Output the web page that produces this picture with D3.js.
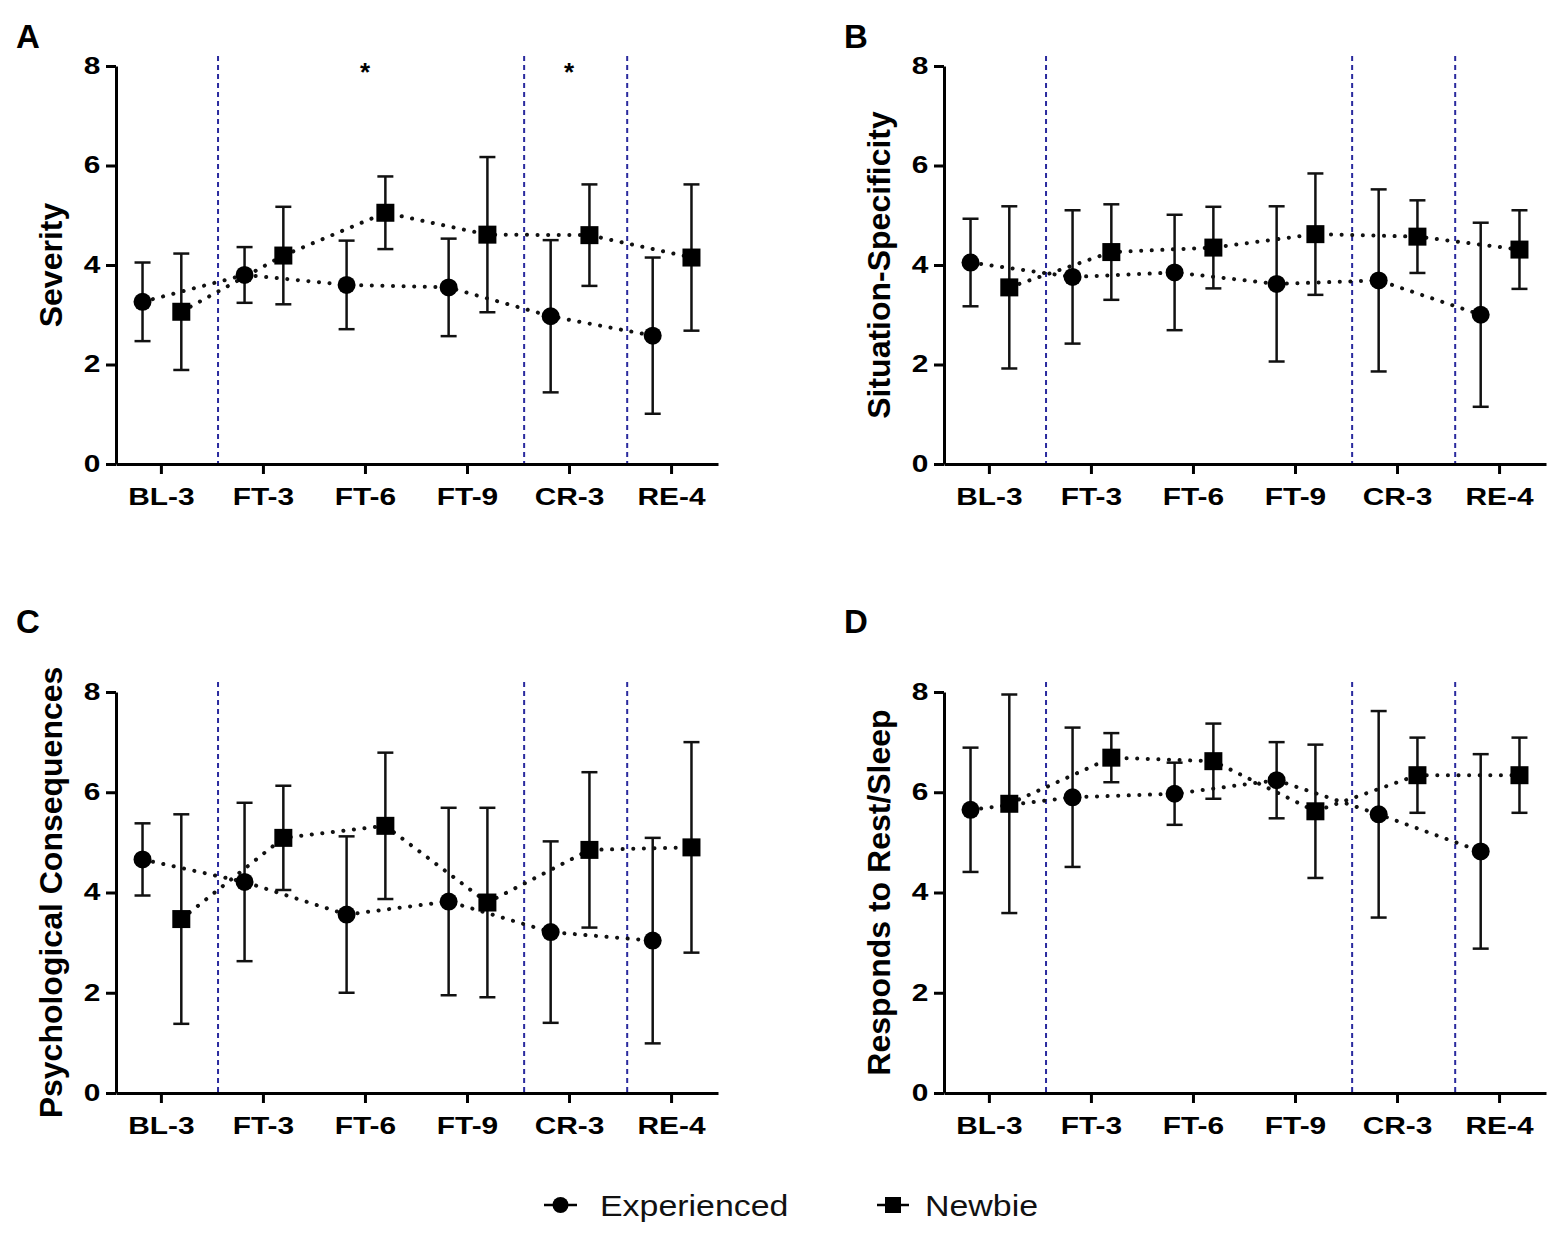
<!DOCTYPE html>
<html>
<head>
<meta charset="utf-8">
<script src="https://cdn.jsdelivr.net/npm/d3@7.9.0/dist/d3.min.js"></script>
<style>
  body { margin: 0; background: #fff; }
  svg { display: block; }
  text { font-family: "Liberation Sans", Arial, sans-serif; }
</style>
</head>
<body>
<svg id="chart" width="1562" height="1233"></svg>
<script>
const categories = ['BL-3', 'FT-3', 'FT-6', 'FT-9', 'CR-3', 'RE-4'];
const yTicks = [0, 2, 4, 6, 8];
// phase boundaries, in category-index units
const phaseBreaks = [0.56, 3.56, 4.57];

// A - Severity
const severityExp = [3.26, 3.80, 3.60, 3.55, 2.97, 2.58];
const severityExpSd = [0.79, 0.56, 0.89, 0.98, 1.53, 1.57];
const severityNew = [3.06, 4.19, 5.05, 4.61, 4.60, 4.15];
const severityNewSd = [1.17, 0.98, 0.73, 1.56, 1.02, 1.47];
const severityStars = ['FT-6', 'CR-3'];

// B - Situation-Specificity
const situationExp = [4.05, 3.76, 3.85, 3.62, 3.69, 3.00];
const situationExpSd = [0.88, 1.34, 1.16, 1.56, 1.83, 1.85];
const situationNew = [3.55, 4.26, 4.35, 4.62, 4.57, 4.31];
const situationNewSd = [1.63, 0.96, 0.82, 1.22, 0.73, 0.79];

// C - Psychological Consequences
const psychExp = [4.66, 4.21, 3.56, 3.82, 3.21, 3.04];
const psychExpSd = [0.72, 1.58, 1.56, 1.87, 1.81, 2.05];
const psychNew = [3.47, 5.09, 5.33, 3.80, 4.85, 4.90];
const psychNewSd = [2.09, 1.04, 1.46, 1.89, 1.55, 2.10];

// D - Responds to Rest/Sleep
const restExp = [5.65, 5.90, 5.97, 6.24, 5.56, 4.82];
const restExpSd = [1.24, 1.39, 0.62, 0.76, 2.06, 1.94];
const restNew = [5.77, 6.69, 6.62, 5.62, 6.34, 6.34];
const restNewSd = [2.18, 0.49, 0.75, 1.33, 0.75, 0.75];

const svg = d3.select('#chart');
const plotW = 602;

const panels = [
  { letter: 'A', title: 'Severity', exp: severityExp, expSd: severityExpSd,
    nw: severityNew, nwSd: severityNewSd, stars: severityStars,
    left: 116, y8: 66, y0: 464, letterY: 48 },
  { letter: 'B', title: 'Situation-Specificity', exp: situationExp, expSd: situationExpSd,
    nw: situationNew, nwSd: situationNewSd, stars: [],
    left: 944, y8: 66, y0: 464, letterY: 48 },
  { letter: 'C', title: 'Psychological Consequences', exp: psychExp, expSd: psychExpSd,
    nw: psychNew, nwSd: psychNewSd, stars: [],
    left: 116, y8: 692, y0: 1093, letterY: 633 },
  { letter: 'D', title: 'Responds to Rest/Sleep', exp: restExp, expSd: restExpSd,
    nw: restNew, nwSd: restNewSd, stars: [],
    left: 944, y8: 692, y0: 1093, letterY: 633 }
];

function drawPanel(p) {
  const x = d3.scaleLinear().domain([-0.44, 5.46]).range([0, plotW]);
  const y = d3.scaleLinear().domain([0, 8]).range([p.y0, p.y8]);
  const g = svg.append('g').attr('transform', `translate(${p.left},0)`);

  svg.append('text')
    .attr('x', p.left - 100).attr('y', p.letterY)
    .attr('font-size', 33).attr('font-weight', 'bold')
    .text(p.letter);

  g.append('text')
    .attr('transform', `translate(-54,${(p.y0 + p.y8) / 2}) rotate(-90)`)
    .attr('text-anchor', 'middle')
    .attr('font-size', 32).attr('font-weight', 'bold')
    .text(p.title);

  g.selectAll('line.break')
    .data(phaseBreaks)
    .join('line')
    .attr('class', 'break')
    .attr('x1', d => x(d)).attr('x2', d => x(d))
    .attr('y1', y(8.2)).attr('y2', y(0))
    .attr('stroke', '#2a2a9e')
    .attr('stroke-width', 2)
    .attr('stroke-dasharray', '5,4');

  const series = [
    { mean: p.exp, sd: p.expSd, shift: -0.18, shape: 'circle' },
    { mean: p.nw, sd: p.nwSd, shift: 0.2, shape: 'square' }
  ];

  series.forEach(s => {
    const line = d3.line()
      .x((d, i) => x(i + s.shift))
      .y(d => y(d));
    g.append('path')
      .attr('d', line(s.mean))
      .attr('fill', 'none')
      .attr('stroke', '#111')
      .attr('stroke-width', 4)
      .attr('stroke-linecap', 'round')
      .attr('stroke-dasharray', '0.1,10.5');
  });

  series.forEach(s => {
    const bars = g.append('g')
      .attr('stroke', '#111')
      .attr('stroke-width', 2.5);
    s.mean.forEach((m, i) => {
      const cx = x(i + s.shift);
      const hi = y(m + s.sd[i]);
      const lo = y(m - s.sd[i]);
      bars.append('line').attr('x1', cx).attr('x2', cx).attr('y1', hi).attr('y2', lo);
      bars.append('line').attr('x1', cx - 8).attr('x2', cx + 8).attr('y1', hi).attr('y2', hi);
      bars.append('line').attr('x1', cx - 8).attr('x2', cx + 8).attr('y1', lo).attr('y2', lo);
    });

    if (s.shape === 'circle') {
      g.selectAll(null)
        .data(s.mean)
        .join('circle')
        .attr('cx', (d, i) => x(i + s.shift))
        .attr('cy', d => y(d))
        .attr('r', 9)
        .attr('fill', '#000');
    } else {
      g.selectAll(null)
        .data(s.mean)
        .join('rect')
        .attr('x', (d, i) => x(i + s.shift) - 9)
        .attr('y', d => y(d) - 9)
        .attr('width', 18).attr('height', 18)
        .attr('fill', '#000');
    }
  });

  p.stars.forEach(c => {
    g.append('text')
      .attr('x', x(categories.indexOf(c)))
      .attr('y', y(8) + 15)
      .attr('text-anchor', 'middle')
      .attr('font-size', 26).attr('font-weight', 'bold')
      .text('*');
  });

  const yAxis = g.append('g')
    .call(d3.axisLeft(y).tickValues(yTicks).tickSize(10).tickPadding(2).tickSizeOuter(0));
  const xAxis = g.append('g')
    .attr('transform', `translate(0,${p.y0})`)
    .call(d3.axisBottom(x).tickValues(d3.range(categories.length))
      .tickFormat(i => categories[i]).tickSize(10).tickPadding(15).tickSizeOuter(0));

  [yAxis, xAxis].forEach(ax => {
    ax.select('.domain').attr('stroke', '#000').attr('stroke-width', 3);
    ax.selectAll('.tick line').attr('stroke', '#000').attr('stroke-width', 3);
    ax.selectAll('.tick text')
      .attr('fill', '#000')
      .attr('font-size', 23)
      .attr('font-weight', 'bold')
      .attr('font-family', '"Liberation Sans", Arial, sans-serif')
      .attr('transform', 'scale(1.3,1)');
  });
}

panels.forEach(drawPanel);

// legend
const legend = svg.append('g').attr('transform', 'translate(0,1205)');
const legendItems = [
  { label: 'Experienced', shape: 'circle', x1: 544, x2: 577, tx: 600 },
  { label: 'Newbie', shape: 'square', x1: 877, x2: 909, tx: 925 }
];
legendItems.forEach(d => {
  const mid = (d.x1 + d.x2) / 2;
  legend.append('line')
    .attr('x1', d.x1).attr('x2', d.x2)
    .attr('stroke', '#000').attr('stroke-width', 2.5);
  if (d.shape === 'circle') {
    legend.append('circle').attr('cx', mid).attr('r', 8).attr('fill', '#000');
  } else {
    legend.append('rect').attr('x', mid - 8).attr('y', -8)
      .attr('width', 16).attr('height', 16).attr('fill', '#000');
  }
  legend.append('text')
    .attr('transform', `translate(${d.tx},11) scale(1.13,1)`)
    .attr('font-size', 30)
    .attr('fill', '#111')
    .text(d.label);
});
</script>
</body>
</html>
